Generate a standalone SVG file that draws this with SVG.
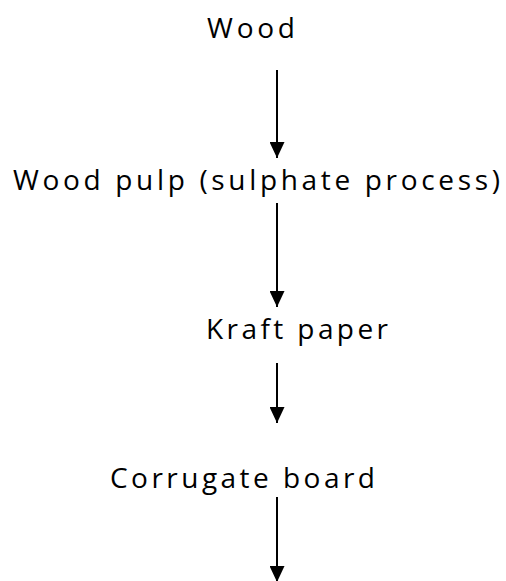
<svg xmlns="http://www.w3.org/2000/svg" width="506" height="581" viewBox="0 0 506 581">
  <defs>
    <style>
      .lbl { font-family: "Open Sans", "Liberation Sans", sans-serif; font-size: 28px; fill: #000; }
      .conn { stroke: #000; stroke-width: 2; fill: none; }
    </style>
    <marker id="arrow" viewBox="0 0 16 15" refX="16" refY="7.5" markerWidth="16" markerHeight="15" markerUnits="userSpaceOnUse" orient="auto">
      <path d="M0,0 L16,7.5 L0,15 Z" fill="#000"/>
    </marker>
  </defs>
  <rect width="506" height="581" fill="#fff"/>
  <g id="connectors">
    <line class="conn" x1="277" y1="70" x2="277" y2="158" marker-end="url(#arrow)"/>
    <line class="conn" x1="277" y1="203" x2="277" y2="307" marker-end="url(#arrow)"/>
    <line class="conn" x1="277" y1="363" x2="277" y2="423" marker-end="url(#arrow)"/>
    <line class="conn" x1="277" y1="497" x2="277" y2="582" marker-end="url(#arrow)"/>
  </g>
  <g id="node-wood">
    <text class="lbl" x="207" y="38" textLength="88" lengthAdjust="spacing">Wood</text>
  </g>
  <g id="node-wood-pulp">
    <text class="lbl" x="13" y="190" textLength="487" lengthAdjust="spacing">Wood pulp (sulphate process)</text>
  </g>
  <g id="node-kraft-paper">
    <text class="lbl" x="206" y="339" textLength="182" lengthAdjust="spacing">Kraft paper</text>
  </g>
  <g id="node-corrugate-board">
    <text class="lbl" x="110" y="488" textLength="265" lengthAdjust="spacing">Corrugate board</text>
  </g>
</svg>
